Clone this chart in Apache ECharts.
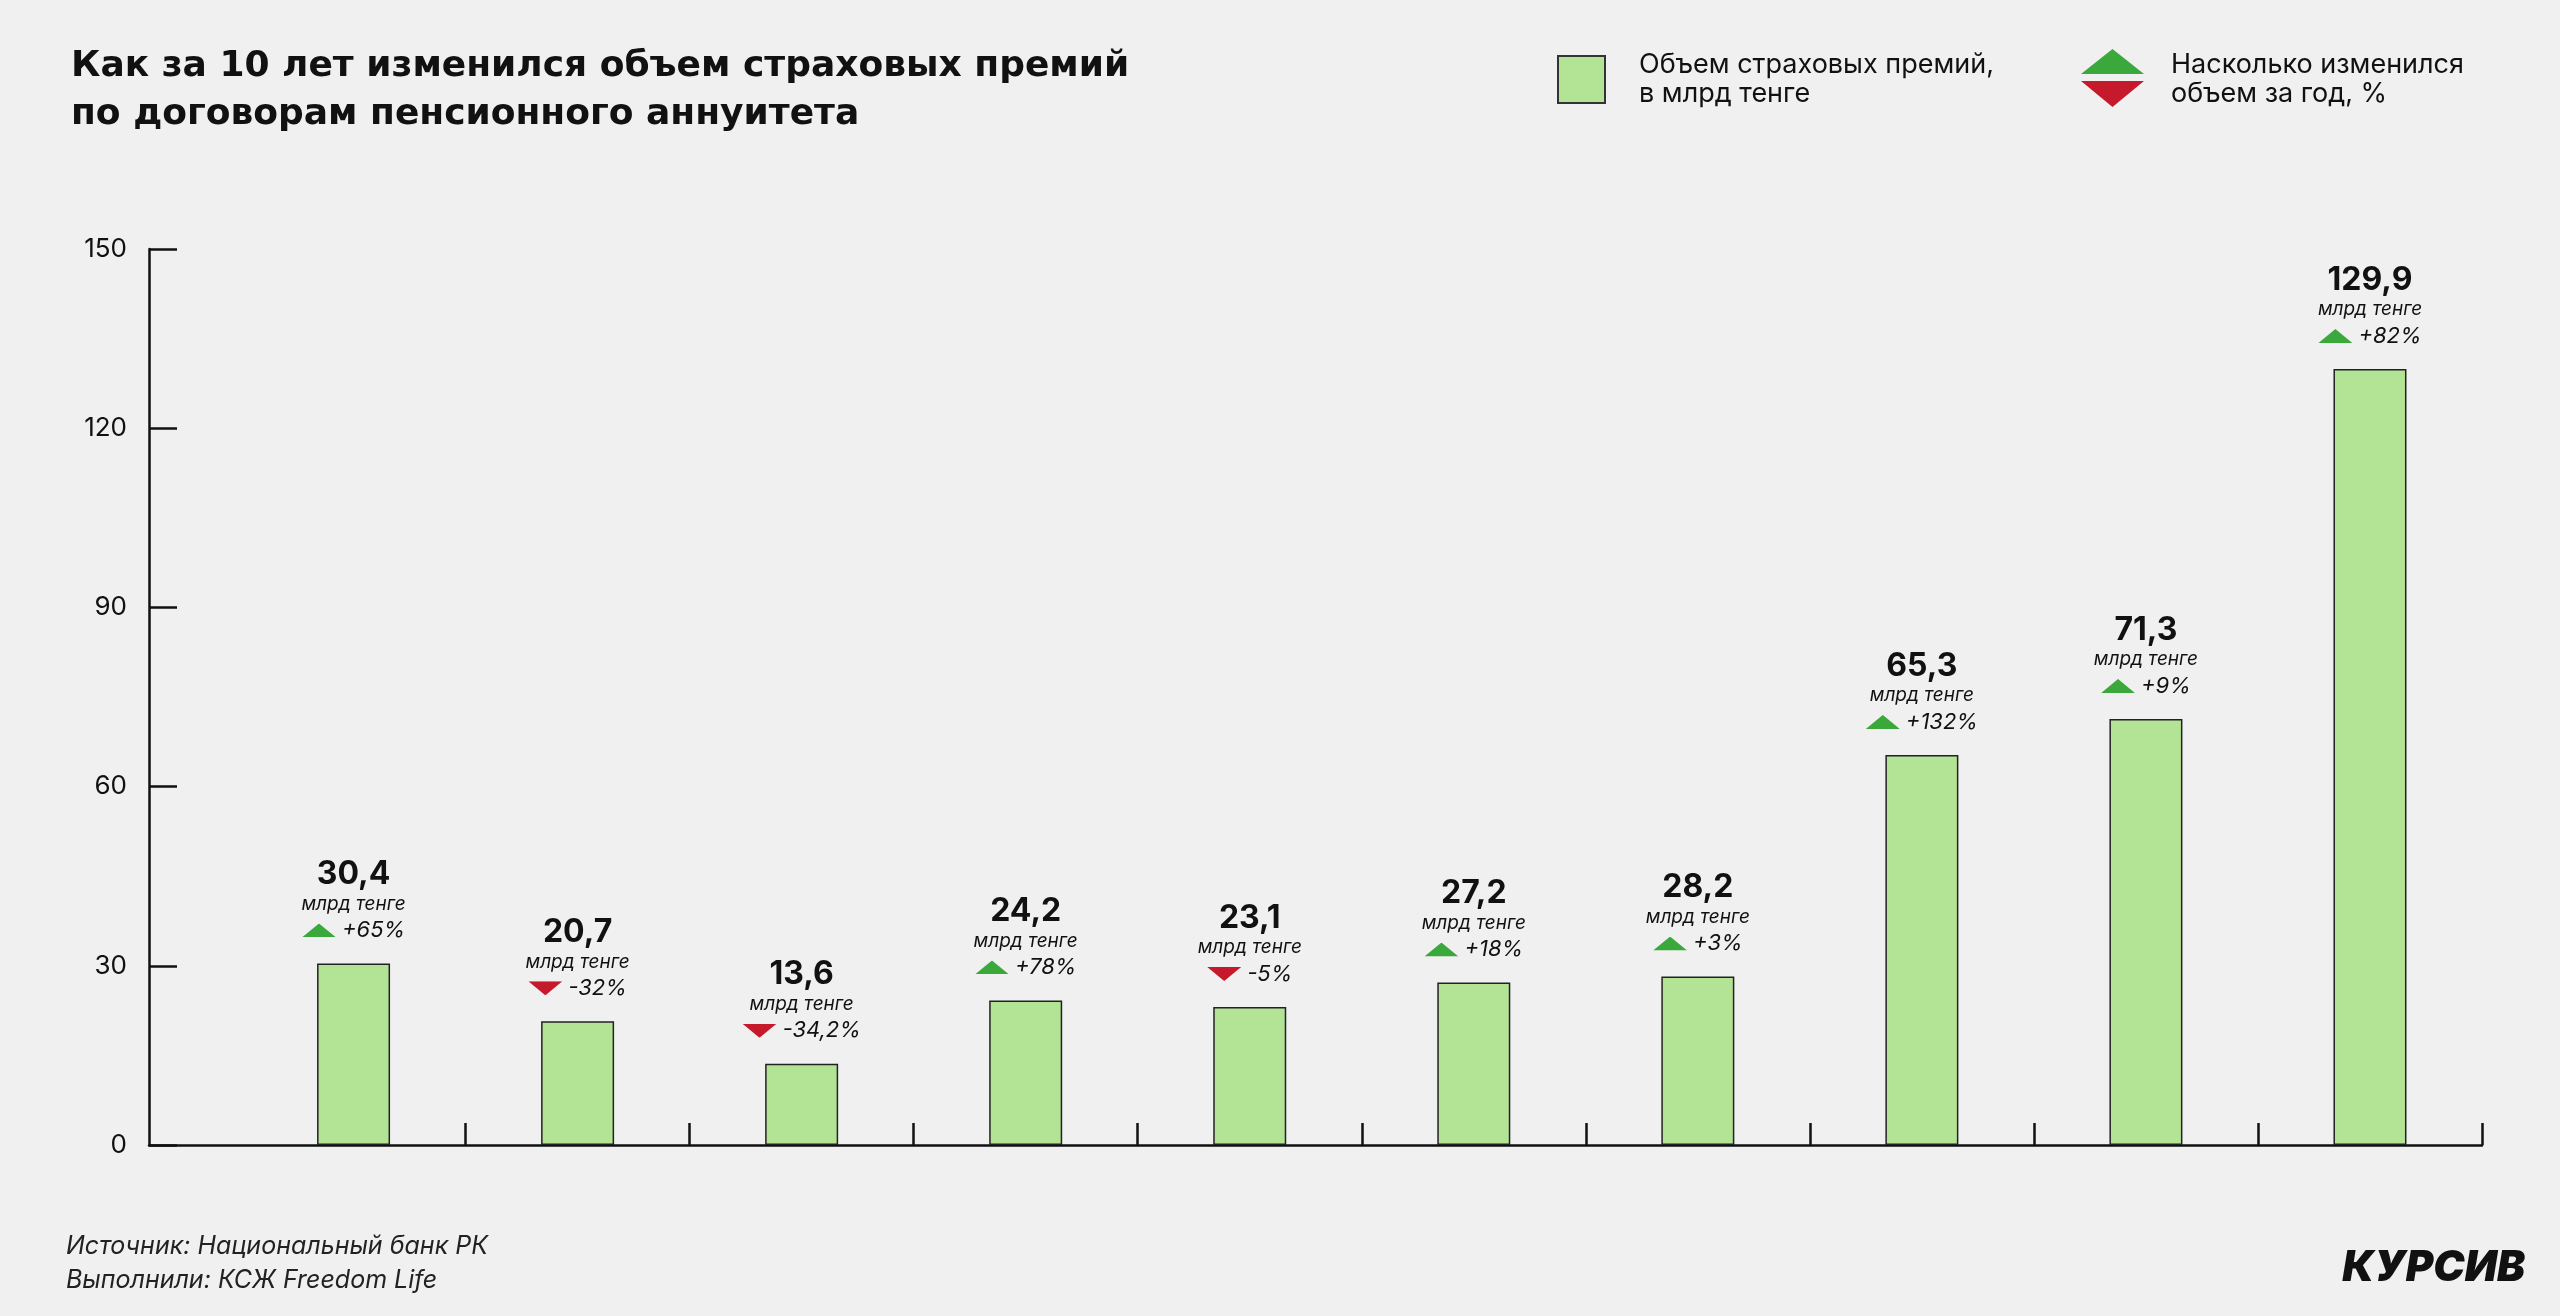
<!DOCTYPE html>
<html>
<head>
<meta charset="utf-8">
<script src="https://cdn.jsdelivr.net/npm/echarts@6/dist/echarts.min.js"></script>
<style>
html,body{margin:0;padding:0;background:#f0f0f0;}
#chart{width:2560px;height:1316px;}
</style>
</head>
<body>
<div id="chart"></div>
<script>
// ---- data ----
var positions = [1, 2, 3, 4, 5, 6, 7, 8, 9, 10];
var values = [30.4, 20.7, 13.6, 24.2, 23.1, 27.2, 28.2, 65.3, 71.3, 129.9];
var changes = ['+65%', '-32%', '-34,2%', '+78%', '-5%', '+18%', '+3%', '+132%', '+9%', '+82%'];
var yTicks = [0, 30, 60, 90, 120, 150];
var xTickPositions = [1.5, 2.5, 3.5, 4.5, 5.5, 6.5, 7.5, 8.5, 9.5, 10.5];

var FONT = 'Inter, "Noto Sans", sans-serif';
var TITLE_FONT = '"DejaVu Sans", Inter, sans-serif';
var GREEN = '#3aa83a', RED = '#c41a2b', BAR = '#b3e394';

function triSvg(up, color) {
  var pts = up ? '0,14 17,0 34,14' : '0,0 34,0 17,14';
  return 'data:image/svg+xml;utf8,' + encodeURIComponent(
    '<svg xmlns="http://www.w3.org/2000/svg" width="34" height="14" viewBox="0 0 34 14"><polygon points="' + pts + '" fill="' + color + '"/></svg>');
}

var chart = echarts.init(document.getElementById('chart'));
var option = {
  backgroundColor: '#f0f0f0',
  animation: false,
  textStyle: { fontFamily: FONT },
  title: {
    text: 'Как за 10 лет изменился объем страховых премий\nпо договорам пенсионного аннуитета',
    left: 66, top: 38,
    textStyle: { fontFamily: TITLE_FONT, fontSize: 36, fontWeight: 'bold', color: '#111', lineHeight: 48 }
  },
  grid: { left: 149, right: 78, top: 249, bottom: 171, containLabel: false },
  xAxis: {
    type: 'value', min: 0.087, max: 10.5,
    axisLine: { show: true, lineStyle: { color: '#111', width: 2.5 } },
    axisTick: { show: true, inside: true, length: 22, customValues: xTickPositions, lineStyle: { color: '#111', width: 2.5 } },
    axisLabel: { show: false },
    splitLine: { show: false }
  },
  yAxis: {
    type: 'value', min: 0, max: 150, interval: 30,
    axisLine: { show: true, lineStyle: { color: '#111', width: 2.5 } },
    axisTick: { show: true, inside: true, length: 28, lineStyle: { color: '#111', width: 2.5 } },
    axisLabel: { show: true, margin: 22, fontSize: 26, color: '#111', fontFamily: FONT,
      customValues: yTicks },
    splitLine: { show: false }
  },
  series: [{
    type: 'bar',
    barWidth: 73,
    data: positions.map(function (p, i) { return [p, values[i]]; }),
    itemStyle: { color: BAR, borderColor: '#222', borderWidth: 1.5 },
    label: {
      show: true, position: 'top', distance: 19,
      formatter: function (p) {
        var c = changes[p.dataIndex];
        var up = c.charAt(0) === '+';
        return '{v|' + String(values[p.dataIndex]).replace('.', ',') + '}\n{u|млрд тенге}\n{' + (up ? 'up' : 'dn') + '|}{p|' + c + '}';
      },
      rich: {
        v: { fontSize: 32, fontWeight: 'bold', color: '#111', lineHeight: 34, fontFamily: FONT },
        u: { fontSize: 19, fontStyle: 'italic', color: '#111', lineHeight: 25, fontFamily: FONT },
        up: { width: 34, height: 14, lineHeight: 28, backgroundColor: { image: triSvg(true, GREEN) } },
        dn: { width: 34, height: 14, lineHeight: 28, backgroundColor: { image: triSvg(false, RED) } },
        p: { fontSize: 22, fontStyle: 'italic', color: '#111', lineHeight: 28, padding: [0, 0, 0, 6], fontFamily: FONT }
      }
    }
  }],
  graphic: [
    { type: 'rect', shape: { x: 1558, y: 56, width: 47, height: 47 }, style: { fill: BAR, stroke: '#333', lineWidth: 2 } },
    { type: 'text', x: 1639, y: 79, style: { text: 'Объем страховых премий,\nв млрд тенге', font: '27px ' + FONT, fill: '#111', lineHeight: 29, verticalAlign: 'middle' } },
    { type: 'polygon', shape: { points: [[2081, 74], [2112.5, 49], [2144, 74]] }, style: { fill: GREEN } },
    { type: 'polygon', shape: { points: [[2081, 81], [2144, 81], [2112.5, 107]] }, style: { fill: RED } },
    { type: 'text', x: 2171, y: 79, style: { text: 'Насколько изменился\nобъем за год, %', font: '27px ' + FONT, fill: '#111', lineHeight: 29, verticalAlign: 'middle' } },
    { type: 'text', x: 66, y: 1246, style: { text: 'Источник: Национальный банк РК', font: 'italic 25px ' + FONT, fill: '#222', verticalAlign: 'middle' } },
    { type: 'text', x: 66, y: 1280, style: { text: 'Выполнили: КСЖ Freedom Life', font: 'italic 25px ' + FONT, fill: '#222', verticalAlign: 'middle' } },
    { type: 'text', x: 2525, y: 1268, style: { text: 'КУРСИВ', font: 'italic 900 42px ' + FONT, fill: '#111', align: 'right', verticalAlign: 'middle' } }
  ]
};
chart.setOption(option);
</script>
</body>
</html>
